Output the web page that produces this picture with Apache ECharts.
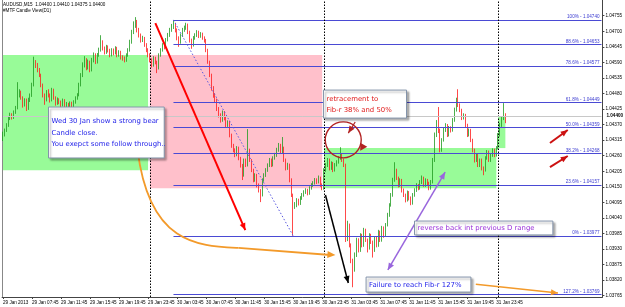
<!DOCTYPE html>
<html><head><meta charset="utf-8">
<script src="https://cdn.jsdelivr.net/npm/echarts@6/dist/echarts.min.js"></script>
<style>html,body{margin:0;padding:0;background:#fff}#c{width:625px;height:307px}</style>
</head><body><div id="c"></div>
<script>
// ---------------- data ----------------
const headerLine1 = 'AUDUSD,M15  1.04400 1.04410 1.04375 1.04400';
const headerLine2 = '#MTF Candle View(D1)';
const xTickLabels = ['29 Jan 2013','29 Jan 07:45','29 Jan 11:45','29 Jan 15:45','29 Jan 19:45','29 Jan 23:45',
  '30 Jan 03:45','30 Jan 07:45','30 Jan 11:45','30 Jan 15:45','30 Jan 19:45','30 Jan 23:45',
  '31 Jan 03:45','31 Jan 07:45','31 Jan 11:45','31 Jan 15:45','31 Jan 19:45','31 Jan 23:45'];
const yTickValues = [1.03765,1.03820,1.03875,1.03930,1.03985,1.04040,1.04095,1.04150,1.04205,1.04260,
  1.04315,1.04370,1.04425,1.04480,1.04535,1.04590,1.04645,1.04700,1.04755];
const bidPrice = 1.04400;

const openPrices = [
1.04320,1.04333,1.04350,1.04368,1.04393,1.04403,1.04396,1.04414,1.04428,1.04474,
1.04485,1.04464,1.04439,1.04457,1.04428,1.04457,1.04474,1.04510,1.04591,1.04580,
1.04563,1.04545,1.04510,1.04474,1.04457,1.04485,1.04474,1.04457,1.04492,1.04464,
1.04446,1.04457,1.04450,1.04439,1.04457,1.04432,1.04442,1.04428,1.04446,1.04435,
1.04450,1.04464,1.04474,1.04510,1.04545,1.04580,1.04598,1.04570,1.04591,1.04563,
1.04598,1.04616,1.04591,1.04616,1.04633,1.04662,1.04640,1.04626,1.04644,1.04633,
1.04616,1.04633,1.04623,1.04640,1.04616,1.04626,1.04609,1.04605,1.04598,1.04616,
1.04633,1.04662,1.04697,1.04722,1.04732,1.04704,1.04686,1.04669,1.04676,1.04651,
1.04633,1.04616,1.04598,1.04580,1.04605,1.04591,1.04570,1.04616,1.04633,1.04651,
1.04644,1.04669,1.04686,1.04704,1.04715,1.04722,1.04704,1.04676,1.04662,1.04686,
1.04704,1.04711,1.04722,1.04697,1.04669,1.04651,1.04676,1.04686,1.04697,1.04683,
1.04690,1.04676,1.04669,1.04633,1.04591,1.04545,1.04499,1.04474,1.04457,1.04428,
1.04403,1.04386,1.04414,1.04393,1.04368,1.04379,1.04333,1.04297,1.04280,1.04262,
1.04287,1.04251,1.04227,1.04191,1.04244,1.04227,1.04280,1.04244,1.04209,1.04174,
1.04191,1.04156,1.04138,1.04121,1.04174,1.04191,1.04209,1.04227,1.04244,1.04227,
1.04251,1.04262,1.04280,1.04297,1.04273,1.04287,1.04244,1.04216,1.04227,1.04174,
1.04121,1.04085,1.04090,1.04103,1.04092,1.04110,1.04121,1.04131,1.04138,1.04128,
1.04145,1.04156,1.04163,1.04174,1.04167,1.04181,1.04156,1.04145,1.04209,1.04227,
1.04244,1.04216,1.04234,1.04209,1.04227,1.04237,1.04251,1.04262,1.04244,1.04227,
1.03962,1.04015,1.03944,1.03891,1.03856,1.03909,1.03962,1.03926,1.03979,1.03944,
1.03997,1.03962,1.03933,1.03979,1.03955,1.03926,1.03969,1.03944,1.03990,1.03962,
1.04004,1.03979,1.04015,1.04050,1.04085,1.04121,1.04174,1.04209,1.04181,1.04156,
1.04174,1.04138,1.04121,1.04103,1.04131,1.04110,1.04092,1.04121,1.04138,1.04156,
1.04145,1.04167,1.04181,1.04156,1.04174,1.04163,1.04145,1.04167,1.04244,1.04333,
1.04368,1.04350,1.04280,1.04315,1.04350,1.04368,1.04333,1.04358,1.04350,1.04386,
1.04421,1.04457,1.04439,1.04421,1.04393,1.04403,1.04368,1.04333,1.04350,1.04315,
1.04280,1.04244,1.04262,1.04227,1.04244,1.04216,1.04209,1.04251,1.04273,1.04244,
1.04262,1.04280,1.04262,1.04287,1.04333,1.04368,1.04393,1.04400];

const closePrices = [
1.04333,1.04350,1.04368,1.04393,1.04403,1.04396,1.04414,1.04428,1.04474,1.04485,
1.04464,1.04439,1.04457,1.04428,1.04457,1.04474,1.04510,1.04591,1.04580,1.04563,
1.04545,1.04510,1.04474,1.04457,1.04485,1.04474,1.04457,1.04492,1.04464,1.04446,
1.04457,1.04450,1.04439,1.04457,1.04432,1.04442,1.04428,1.04446,1.04435,1.04450,
1.04464,1.04474,1.04510,1.04545,1.04580,1.04598,1.04570,1.04591,1.04563,1.04598,
1.04616,1.04591,1.04616,1.04633,1.04662,1.04640,1.04626,1.04644,1.04633,1.04616,
1.04633,1.04623,1.04640,1.04616,1.04626,1.04609,1.04605,1.04598,1.04616,1.04633,
1.04662,1.04697,1.04722,1.04732,1.04704,1.04686,1.04669,1.04676,1.04651,1.04633,
1.04616,1.04598,1.04580,1.04605,1.04591,1.04570,1.04616,1.04633,1.04651,1.04644,
1.04669,1.04686,1.04704,1.04715,1.04722,1.04704,1.04676,1.04662,1.04686,1.04704,
1.04711,1.04722,1.04697,1.04669,1.04651,1.04676,1.04686,1.04697,1.04683,1.04690,
1.04676,1.04669,1.04633,1.04591,1.04545,1.04499,1.04474,1.04457,1.04428,1.04403,
1.04386,1.04414,1.04393,1.04368,1.04379,1.04333,1.04297,1.04280,1.04262,1.04287,
1.04251,1.04227,1.04191,1.04244,1.04227,1.04280,1.04244,1.04209,1.04174,1.04191,
1.04156,1.04138,1.04121,1.04174,1.04191,1.04209,1.04227,1.04244,1.04227,1.04251,
1.04262,1.04280,1.04297,1.04273,1.04287,1.04244,1.04216,1.04227,1.04174,1.04121,
1.04085,1.04090,1.04103,1.04092,1.04110,1.04121,1.04131,1.04138,1.04128,1.04145,
1.04156,1.04163,1.04174,1.04167,1.04181,1.04156,1.04145,1.04209,1.04227,1.04244,
1.04216,1.04234,1.04209,1.04227,1.04237,1.04251,1.04262,1.04244,1.04227,1.03962,
1.04015,1.03944,1.03891,1.03856,1.03909,1.03962,1.03926,1.03979,1.03944,1.03997,
1.03962,1.03933,1.03979,1.03955,1.03926,1.03969,1.03944,1.03990,1.03962,1.04004,
1.03979,1.04015,1.04050,1.04085,1.04121,1.04174,1.04209,1.04181,1.04156,1.04174,
1.04138,1.04121,1.04103,1.04131,1.04110,1.04092,1.04121,1.04138,1.04156,1.04145,
1.04167,1.04181,1.04156,1.04174,1.04163,1.04145,1.04167,1.04244,1.04333,1.04368,
1.04350,1.04280,1.04315,1.04350,1.04368,1.04333,1.04358,1.04350,1.04386,1.04421,
1.04457,1.04439,1.04421,1.04393,1.04403,1.04368,1.04333,1.04350,1.04315,1.04280,
1.04244,1.04262,1.04227,1.04244,1.04216,1.04209,1.04251,1.04273,1.04244,1.04262,
1.04280,1.04262,1.04287,1.04333,1.04368,1.04393,1.04403,1.04400];

const lowPrices = [
1.04312,1.04328,1.04344,1.04362,1.04386,1.04388,1.04390,1.04408,1.04424,1.04466,
1.04458,1.04430,1.04434,1.04418,1.04422,1.04450,1.04468,1.04505,1.04570,1.04555,
1.04538,1.04502,1.04466,1.04440,1.04452,1.04466,1.04448,1.04452,1.04458,1.04437,
1.04440,1.04442,1.04430,1.04434,1.04424,1.04426,1.04420,1.04423,1.04429,1.04430,
1.04444,1.04458,1.04470,1.04505,1.04538,1.04572,1.04562,1.04565,1.04555,1.04558,
1.04590,1.04584,1.04586,1.04610,1.04628,1.04632,1.04618,1.04620,1.04625,1.04608,
1.04611,1.04615,1.04618,1.04608,1.04610,1.04600,1.04596,1.04590,1.04592,1.04610,
1.04628,1.04656,1.04690,1.04712,1.04696,1.04678,1.04660,1.04662,1.04645,1.04626,
1.04608,1.04590,1.04572,1.04575,1.04583,1.04552,1.04565,1.04610,1.04628,1.04636,
1.04640,1.04664,1.04680,1.04698,1.04708,1.04696,1.04668,1.04645,1.04656,1.04680,
1.04698,1.04705,1.04690,1.04660,1.04638,1.04646,1.04670,1.04680,1.04676,1.04677,
1.04670,1.04660,1.04626,1.04585,1.04538,1.04490,1.04465,1.04448,1.04418,1.04395,
1.04377,1.04380,1.04385,1.04360,1.04362,1.04325,1.04288,1.04272,1.04255,1.04258,
1.04244,1.04218,1.04174,1.04186,1.04220,1.04222,1.04238,1.04202,1.04166,1.04168,
1.04148,1.04130,1.04096,1.04116,1.04168,1.04185,1.04203,1.04220,1.04220,1.04222,
1.04246,1.04256,1.04274,1.04266,1.04268,1.04238,1.04208,1.04210,1.04166,1.04114,
1.03977,1.04072,1.04078,1.04084,1.04086,1.04104,1.04115,1.04125,1.04120,1.04122,
1.04140,1.04150,1.04158,1.04160,1.04162,1.04150,1.04138,1.04140,1.04203,1.04220,
1.04208,1.04210,1.04202,1.04204,1.04222,1.04232,1.04246,1.04238,1.04220,1.03955,
1.03958,1.03936,1.03880,1.03795,1.03850,1.03902,1.03918,1.03920,1.03936,1.03938,
1.03955,1.03918,1.03928,1.03948,1.03900,1.03920,1.03936,1.03938,1.03955,1.03956,
1.03970,1.03974,1.04010,1.04044,1.04080,1.04115,1.04168,1.04174,1.04148,1.04150,
1.04130,1.04114,1.04095,1.04098,1.04102,1.04085,1.04087,1.04115,1.04132,1.04138,
1.04140,1.04160,1.04150,1.04150,1.04156,1.04138,1.04140,1.04162,1.04238,1.04326,
1.04340,1.04272,1.04274,1.04310,1.04344,1.04326,1.04328,1.04342,1.04345,1.04380,
1.04416,1.04432,1.04414,1.04386,1.04388,1.04360,1.04326,1.04328,1.04308,1.04272,
1.04236,1.04238,1.04220,1.04220,1.04208,1.04191,1.04204,1.04246,1.04238,1.04238,
1.04256,1.04255,1.04257,1.04282,1.04328,1.04362,1.04386,1.04375];

const highPrices = [
1.04345,1.04356,1.04375,1.04398,1.04412,1.04410,1.04420,1.04436,1.04520,1.04495,
1.04490,1.04470,1.04463,1.04462,1.04465,1.04480,1.04518,1.04610,1.04598,1.04588,
1.04570,1.04550,1.04515,1.04480,1.04492,1.04495,1.04480,1.04500,1.04497,1.04470,
1.04466,1.04463,1.04455,1.04462,1.04460,1.04450,1.04447,1.04452,1.04451,1.04456,
1.04470,1.04481,1.04518,1.04552,1.04590,1.04612,1.04605,1.04600,1.04596,1.04606,
1.04625,1.04622,1.04623,1.04642,1.04686,1.04668,1.04646,1.04652,1.04650,1.04638,
1.04640,1.04639,1.04647,1.04645,1.04633,1.04631,1.04615,1.04611,1.04622,1.04640,
1.04670,1.04705,1.04735,1.04750,1.04740,1.04712,1.04692,1.04684,1.04680,1.04658,
1.04640,1.04622,1.04604,1.04612,1.04610,1.04596,1.04622,1.04640,1.04658,1.04660,
1.04676,1.04694,1.04712,1.04726,1.04740,1.04730,1.04710,1.04682,1.04692,1.04712,
1.04720,1.04730,1.04727,1.04702,1.04674,1.04683,1.04693,1.04704,1.04702,1.04697,
1.04695,1.04682,1.04673,1.04638,1.04596,1.04550,1.04506,1.04481,1.04462,1.04432,
1.04410,1.04420,1.04418,1.04398,1.04385,1.04384,1.04338,1.04302,1.04286,1.04294,
1.04292,1.04256,1.04231,1.04250,1.04250,1.04354,1.04285,1.04248,1.04214,1.04198,
1.04196,1.04162,1.04142,1.04180,1.04198,1.04216,1.04233,1.04252,1.04250,1.04258,
1.04270,1.04288,1.04305,1.04302,1.04326,1.04292,1.04250,1.04235,1.04232,1.04180,
1.04126,1.04096,1.04110,1.04108,1.04117,1.04128,1.04138,1.04145,1.04143,1.04152,
1.04163,1.04170,1.04181,1.04180,1.04190,1.04186,1.04162,1.04216,1.04234,1.04252,
1.04250,1.04240,1.04238,1.04234,1.04244,1.04258,1.04290,1.04268,1.04250,1.04232,
1.04030,1.04020,1.03950,1.03896,1.03918,1.03970,1.03968,1.03986,1.03984,1.04005,
1.04002,1.03967,1.03986,1.03984,1.03960,1.03976,1.03974,1.03998,1.03995,1.04012,
1.04010,1.04022,1.04058,1.04092,1.04128,1.04182,1.04237,1.04214,1.04186,1.04180,
1.04178,1.04144,1.04126,1.04137,1.04135,1.04116,1.04128,1.04145,1.04163,1.04160,
1.04174,1.04190,1.04186,1.04180,1.04178,1.04168,1.04174,1.04252,1.04342,1.04386,
1.04432,1.04356,1.04322,1.04358,1.04375,1.04372,1.04365,1.04364,1.04393,1.04430,
1.04465,1.04495,1.04445,1.04426,1.04410,1.04408,1.04373,1.04356,1.04355,1.04320,
1.04285,1.04268,1.04267,1.04250,1.04250,1.04222,1.04258,1.04280,1.04278,1.04268,
1.04286,1.04285,1.04294,1.04340,1.04376,1.04400,1.04446,1.04410];

// daily (D1) open / close drawn by the MTF candle view indicator
const dayNames  = ['29 Jan','30 Jan','31 Jan','1 Feb'];
const dayOpens  = [1.04209,1.04616,1.04145,1.04287];
const dayCloses = [1.04616,1.04145,1.04287,1.04400];

// Fibonacci retracement tool
const fibAnchorHigh = ['30 Jan 03:15', 1.04740];
const fibAnchorLow  = ['30 Jan 19:45', 1.03977];
const fibLabels = ['100%','88.6%','78.6%','61.8%','50.0%','38.2%','23.6%','0%','127.2%'];
const fibPrices = [1.04740,1.04653,1.04577,1.04449,1.04359,1.04268,1.04157,1.03977,1.03769];

// annotations, in [bar index, price]
const noteBoxes = [
  {lines:['Wed 30 Jan show a strong bear','Candle close.','You exepct some follow through..'], color:'#1c1ce8', from:[25.1,1.04432], to:[88.9,1.04252], offs:[14,26,37]},
  {lines:['retracement to','Fib-r 38% and 50%'], color:'#e01818', from:[176.7,1.04492], to:[222.5,1.04393], offs:[9,20]},
  {lines:['reverse back int previous D range'], color:'#9a30d8', from:[226.9,1.04029], to:[303.2,1.03980], offs:[7]},
  {lines:['Failure to reach Fib-r 127%'], color:'#1c1ce8', from:[200.2,1.03831], to:[258.0,1.03778], offs:[8]}
];
const arrowMarks = [
  {pts:[[84.0,1.04729],[133.6,1.03997]], color:'#ff0000', width:2, both:false},
  {pts:[[177.8,1.04121],[190.4,1.03810]], color:'#000000', width:1.5, both:false},
  {pts:[[243.8,1.04202],[212.2,1.03856]], color:'#9966dd', width:1.5, both:true},
  {pts:[[301.6,1.04305],[311.4,1.04351]], color:'#cc1111', width:2, both:false},
  {pts:[[301.6,1.04220],[311.4,1.04259]], color:'#cc1111', width:2, both:false},
  {pts:[[260.7,1.03806],[306.0,1.03775]], color:'#f39a2a', width:1.5, both:false},
  {pts:[[194.2,1.04379],[190.4,1.04340]], color:'#b22222', width:1.2, both:false}
];
const orangeCurve = [[74.2,1.04280],[80.8,1.03944],[108.0,1.03941],[129.8,1.03934],[183.3,1.03909]];
const circleMark = [187.6,1.04316];

// ---------------- chart ----------------
const categories = [];
for (let i = 0; i < 331; i++) {
  const t = 225 + 15 * i;
  const d = 29 + Math.floor(t / 1440);
  const m = t % 1440;
  const hh = String(Math.floor(m / 60)).padStart(2, '0');
  const mm = String(m % 60).padStart(2, '0');
  categories.push((d > 31 ? (d - 31) + ' Feb' : d + ' Jan') + ' ' + hh + ':' + mm);
}
const candleData = closePrices.map((c, i) => [openPrices[i], c, lowPrices[i], highPrices[i]]);

const dayBoxData = dayNames.map((dn, k) => {
  let s = -1, e = -1;
  for (let i = 0; i < closePrices.length; i++) {
    if (categories[i].startsWith(dn + ' ')) { if (s < 0) s = i; e = i; }
  }
  return [s, e, dayOpens[k], dayCloses[k]];
});

const firstCat = categories[0];
const lastCat = categories[categories.length - 1];
const FONT = 'Liberation Sans';
const tickShown = (idx) => idx % 16 === 0 && idx / 16 < xTickLabels.length;

const markLines = [];
fibPrices.forEach((p, k) => {
  markLines.push([
    {coord:[fibAnchorHigh[0], p], lineStyle:{color:'#4a4ad4', width:1, type:'solid'},
     label:{show:true, position:'insideEndTop', formatter: fibLabels[k] + ' - ' + p.toFixed(5),
            fontSize:4.6, fontFamily:FONT, color:'#3a3ad0', distance:[2,0.5]}},
    {coord:[lastCat, p]}
  ]);
});
markLines.push([
  {coord:[fibAnchorHigh[0], fibAnchorHigh[1]], lineStyle:{color:'#5a5ae0', width:1, type:[1.5,2]}, label:{show:false}},
  {coord:[fibAnchorLow[0], fibAnchorLow[1]]}
]);
['30 Jan 00:00','31 Jan 00:00','1 Feb 00:00'].forEach(n => {
  markLines.push({xAxis:n, lineStyle:{color:'#000', width:1, type:[1.5,1.5]}, label:{show:false}});
});
markLines.push([
  {coord:[firstCat, bidPrice], lineStyle:{color:'#c8c8c8', width:1, type:'solid'},
   label:{show:true, position:'end', formatter:bidPrice.toFixed(5), fontSize:4.6, fontFamily:FONT,
          color:'#000', fontWeight:'bold', distance:5}},
  {coord:[lastCat, bidPrice]}
]);

const chart = echarts.init(document.getElementById('c'), null, {renderer:'canvas'});
chart.setOption({
  animation:false,
  backgroundColor:'#ffffff',
  grid:{left:1, right:18, top:0, bottom:10, containLabel:false},
  xAxis:{type:'category', data:categories, boundaryGap:true,
    axisLine:{show:true, lineStyle:{color:'#444', width:1}},
    axisTick:{show:true, interval:tickShown, alignWithLabel:true, length:2, lineStyle:{color:'#444'}},
    axisLabel:{interval:tickShown, formatter:(v, i) => xTickLabels[i / 16], fontSize:4.6, fontFamily:FONT,
               color:'#000', align:'left', margin:3},
    splitLine:{show:false}},
  yAxis:[
    {type:'value', position:'right', min:1.037605, max:1.048105,
     axisLine:{show:true, lineStyle:{color:'#444', width:1}},
     axisTick:{show:true, customValues:yTickValues, length:2, lineStyle:{color:'#444'}},
     axisLabel:{customValues:yTickValues, formatter:v => v.toFixed(5), fontSize:4.6, fontFamily:FONT, color:'#000', margin:3},
     splitLine:{show:false}},
    {type:'value', position:'left', min:1.037605, max:1.048105,
     axisLine:{show:true, lineStyle:{color:'#888', width:1}}, axisTick:{show:false}, axisLabel:{show:false}, splitLine:{show:false}}
  ],
  series:[
    {type:'custom', name:'D1', z:1, silent:true, data:dayBoxData, encode:{x:[0,1], y:[2,3]},
     renderItem:(params, api) => {
       const a = api.coord([api.value(0), api.value(2)]);
       const b = api.coord([api.value(1), api.value(3)]);
       return {type:'rect', shape:{x:a[0], y:Math.min(a[1], b[1]), width:b[0] - a[0], height:Math.abs(a[1] - b[1])},
               style:{fill: api.value(3) >= api.value(2) ? '#98fb98' : '#ffc0cb'}};
     }},
    {type:'candlestick', name:'AUDUSD', z:3, data:candleData, barWidth:1,
     itemStyle:{color:'#1f9a1f', color0:'#ff1c1c', borderColor:'#1f9a1f', borderColor0:'#ff1c1c', borderWidth:0.8},
     markLine:{silent:true, symbol:['none','none'], animation:false, data:markLines}}
  ],
  graphic:[]
});

// ---- annotation drawing (positions via the chart's own scales) ----
const x0 = chart.convertToPixel({xAxisIndex:0}, 0);
const x100 = chart.convertToPixel({xAxisIndex:0}, 100);
const toPx = (pt) => [x0 + (x100 - x0) * pt[0] / 100, chart.convertToPixel({yAxisIndex:0}, pt[1])];
function headPoly(tip, from, len, half) {
  const dx = tip[0] - from[0], dy = tip[1] - from[1];
  const L = Math.hypot(dx, dy) || 1, ux = dx / L, uy = dy / L;
  const bx = tip[0] - ux * len, by = tip[1] - uy * len;
  return [[tip[0], tip[1]], [bx - uy * half, by + ux * half], [bx + uy * half, by - ux * half]];
}
const els = [];
els.push({type:'text', z:100, style:{text:headerLine1, x:3, y:2.5, fill:'#000', font:'4.6px "Liberation Sans"', verticalAlign:'top'}});
els.push({type:'text', z:100, style:{text:headerLine2, x:3, y:8, fill:'#000', font:'4.6px "Liberation Sans"', verticalAlign:'top'}});

// orange curved arrow
{
  const p = orangeCurve.map(toPx);
  els.push({type:'bezierCurve', z:100, shape:{x1:p[0][0], y1:p[0][1], cpx1:p[1][0], cpy1:p[1][1], cpx2:p[2][0], cpy2:p[2][1], x2:p[3][0], y2:p[3][1]},
            style:{stroke:'#f39a2a', lineWidth:1.8, fill:null}});
  els.push({type:'line', z:100, shape:{x1:p[3][0], y1:p[3][1], x2:p[4][0] - 5, y2:p[4][1]}, style:{stroke:'#f39a2a', lineWidth:1.8}});
  els.push({type:'polygon', z:100, shape:{points:headPoly(p[4], p[3], 8, 3.5)}, style:{fill:'#f39a2a'}});
}
arrowMarks.forEach(a => {
  const p = a.pts.map(toPx);
  els.push({type:'line', z:100, shape:{x1:p[0][0], y1:p[0][1], x2:p[1][0], y2:p[1][1]}, style:{stroke:a.color, lineWidth:a.width}});
  els.push({type:'polygon', z:100, shape:{points:headPoly(p[1], p[0], 7, 3)}, style:{fill:a.color}});
  if (a.both) els.push({type:'polygon', z:100, shape:{points:headPoly(p[0], p[1], 7, 3)}, style:{fill:a.color}});
});
{
  const c = toPx(circleMark);
  els.push({type:'circle', z:100, shape:{cx:c[0], cy:c[1], r:18}, style:{stroke:'#b22222', lineWidth:1.4, fill:null}});
  els.push({type:'polygon', z:100, shape:{points:[[c[0]+24, c[1]+7],[c[0]+17, c[1]+3],[c[0]+17, c[1]+11]]}, style:{fill:'#b22222'}});
}
noteBoxes.forEach(b => {
  const a = toPx(b.from), e = toPx(b.to);
  els.push({type:'rect', z:101, shape:{x:a[0], y:a[1], width:e[0] - a[0], height:e[1] - a[1]},
            style:{fill:'#fff', stroke:'#8393aa', lineWidth:1, shadowBlur:2, shadowOffsetX:2, shadowOffsetY:2, shadowColor:'rgba(0,0,0,0.3)'}});
  b.lines.forEach((t, k) => {
    els.push({type:'text', z:102, style:{text:t, x:a[0] + 3, y:a[1] + b.offs[k], fill:b.color,
              font:'6.9px "DejaVu Sans"', verticalAlign:'middle'}});
  });
});
chart.setOption({graphic:els});
</script>
</body></html>
